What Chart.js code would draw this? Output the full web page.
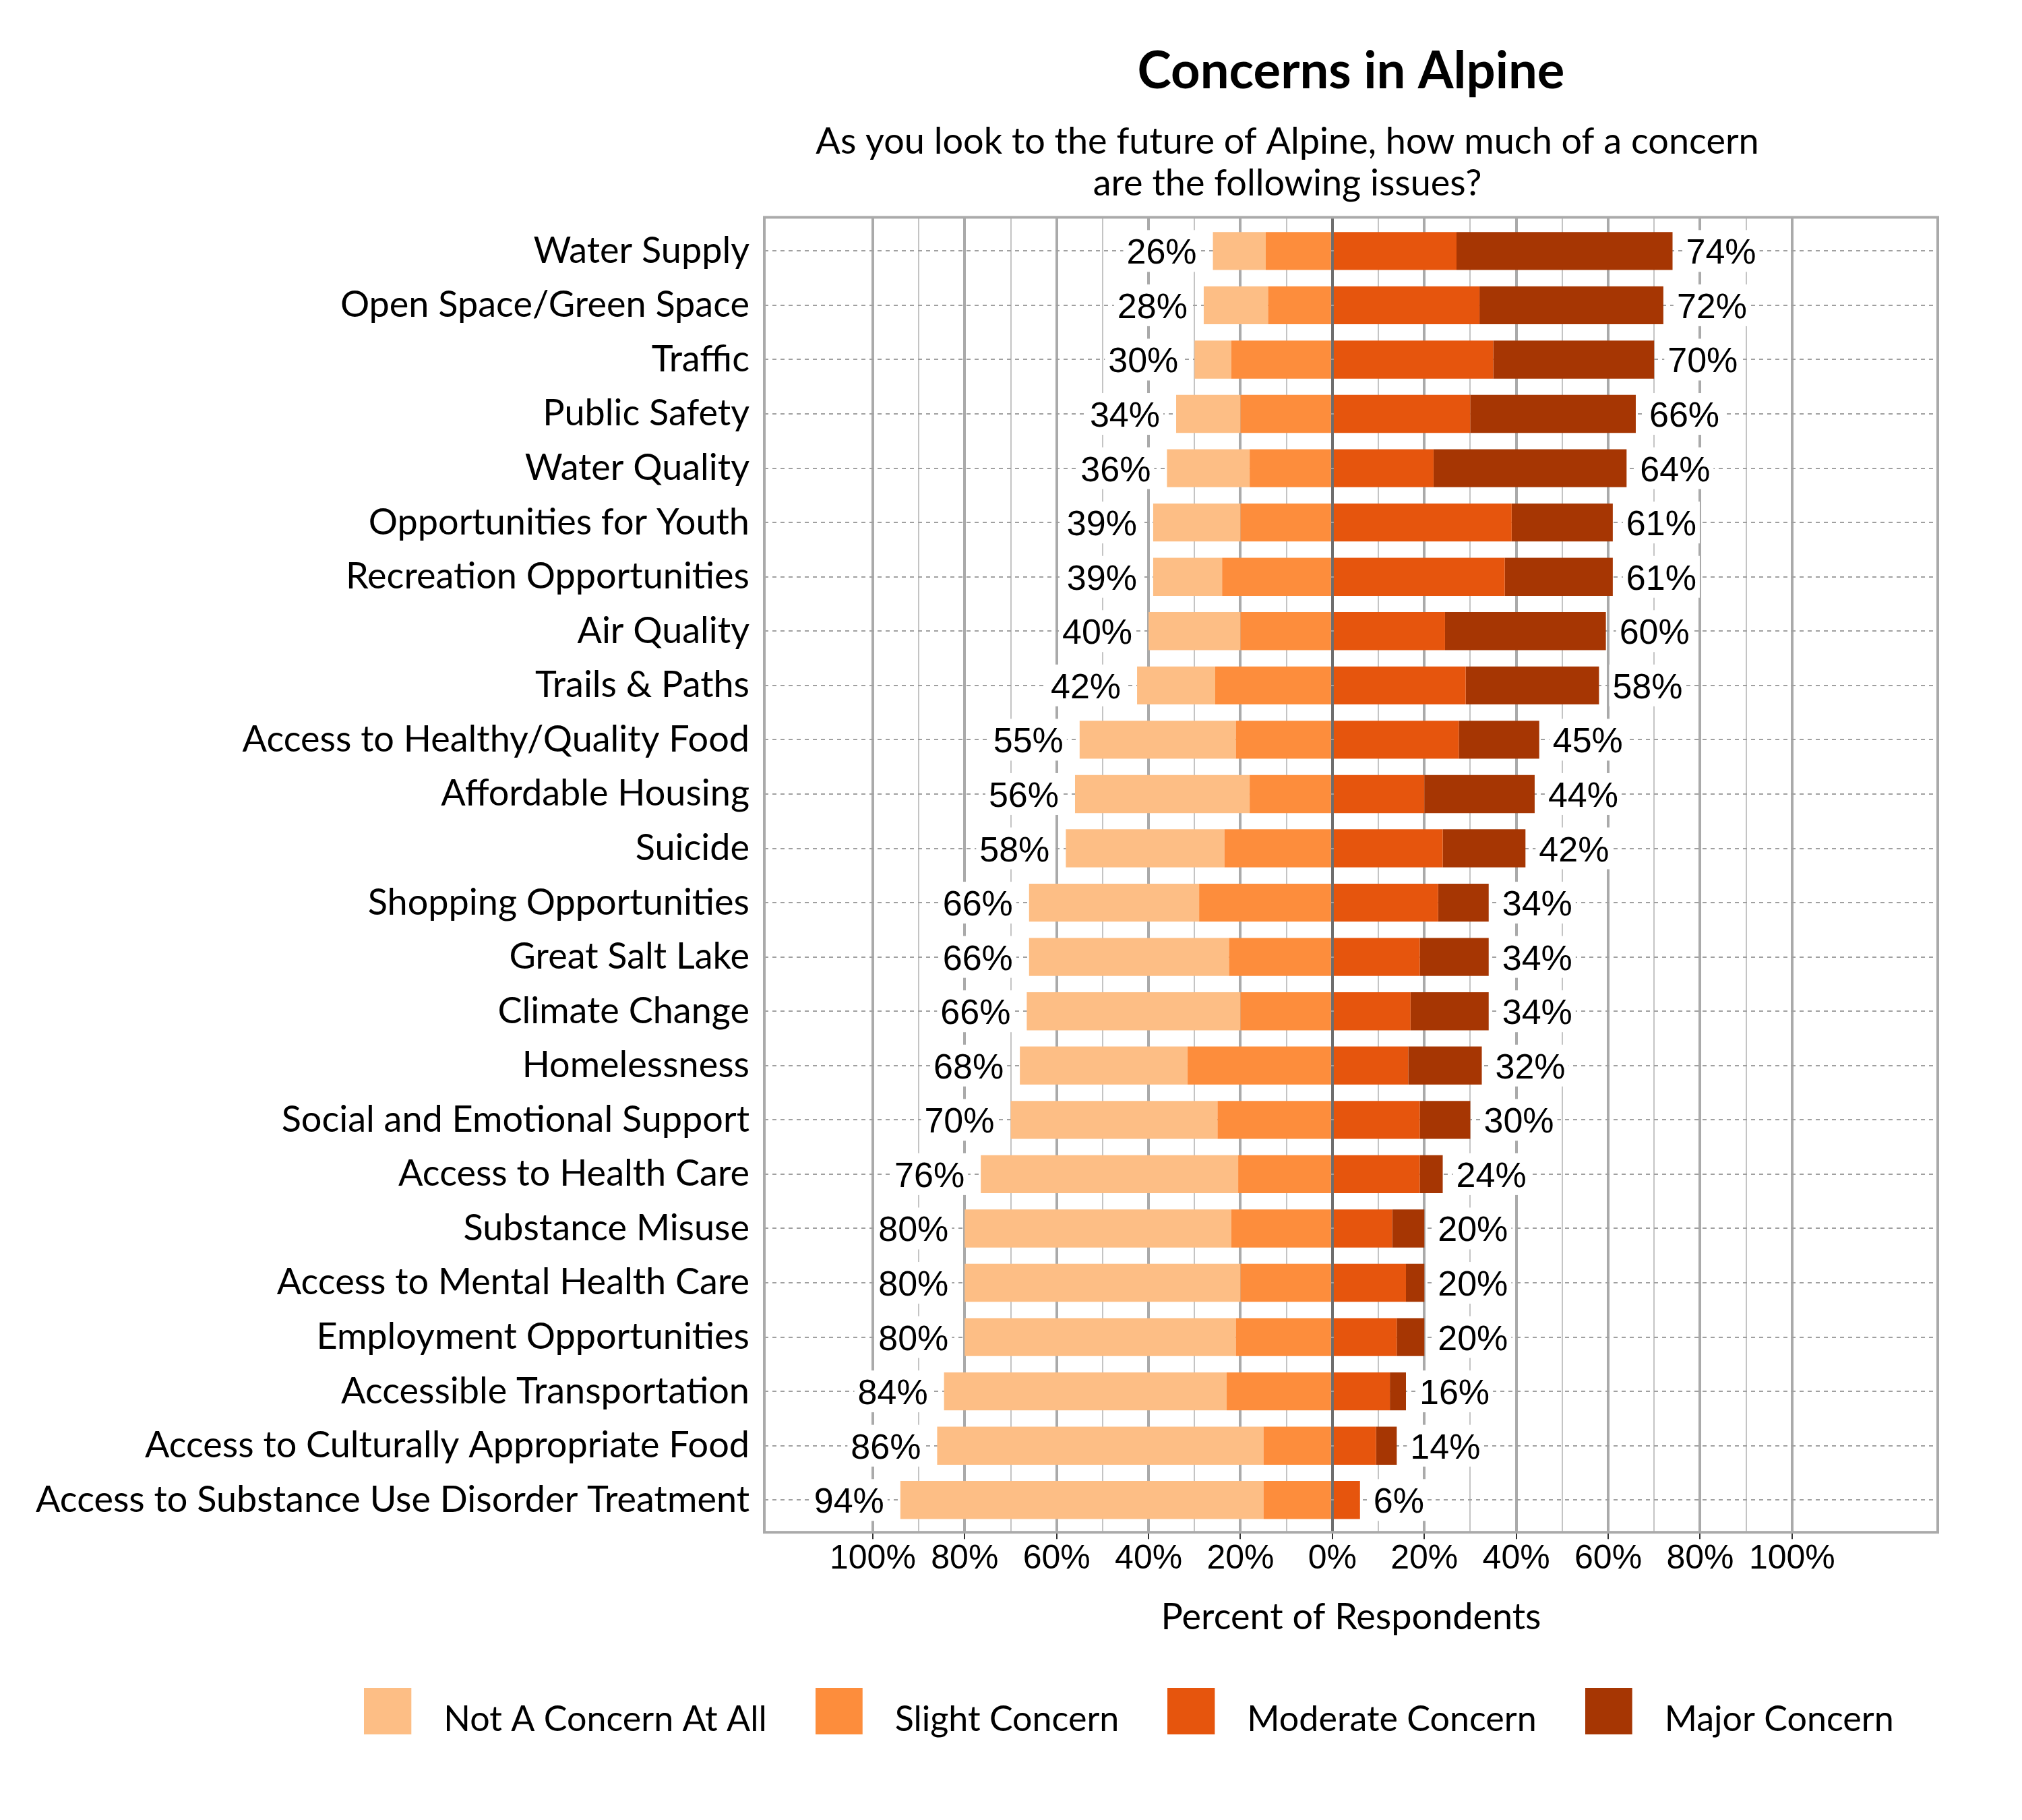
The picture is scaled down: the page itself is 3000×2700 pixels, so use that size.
<!DOCTYPE html>
<html>
<head>
<meta charset="utf-8">
<title>Concerns in Alpine</title>
<script src="https://cdn.jsdelivr.net/npm/chart.js@4.4.1/dist/chart.umd.min.js"></script>
<style>
  html, body { margin: 0; padding: 0; background: #ffffff; }
  canvas { display: block; }
</style>
</head>
<body>
<canvas id="concernsChart" width="3000" height="2700" style="width:3000px;height:2700px"></canvas>
<script>
// Kategori dari atas ke bawah
const categories = [
  'Water Supply', 'Open Space/Green Space', 'Traffic', 'Public Safety', 'Water Quality',
  'Opportunities for Youth', 'Recreation Opportunities', 'Air Quality', 'Trails & Paths',
  'Access to Healthy/Quality Food', 'Affordable Housing', 'Suicide', 'Shopping Opportunities',
  'Great Salt Lake', 'Climate Change', 'Homelessness', 'Social and Emotional Support',
  'Access to Health Care', 'Substance Misuse', 'Access to Mental Health Care',
  'Employment Opportunities', 'Accessible Transportation', 'Access to Culturally Appropriate Food',
  'Access to Substance Use Disorder Treatment'
];

// Persen responden per tingkat kekhawatiran
const notConcern = [11.5, 14, 8, 14, 18, 19, 15, 20, 17, 34, 38, 34.5, 37, 43.5, 46.5, 36.5, 45, 56, 58, 60, 59, 61.5, 71, 79];
const slightConcern = [14.5, 14, 22, 20, 18, 20, 24, 20, 25.5, 21, 18, 23.5, 29, 22.5, 20, 31.5, 25, 20.5, 22, 20, 21, 23, 15, 15];
const moderateConcern = [27, 32, 35, 30, 22, 39, 37.5, 24.5, 29, 27.5, 20, 24, 23, 19, 17, 16.5, 19, 19, 13, 16, 14, 12.5, 9.5, 6];
const majorConcern = [47, 40, 35, 36, 42, 22, 23.5, 35, 29, 17.5, 24, 18, 11, 15, 17, 16, 11, 5, 7, 4, 6, 3.5, 4.5, 0];

// Label total kiri (tidak/sedikit) dan kanan (sedang/besar)
const leftTotals = [26, 28, 30, 34, 36, 39, 39, 40, 42, 55, 56, 58, 66, 66, 66, 68, 70, 76, 80, 80, 80, 84, 86, 94];
const rightTotals = [74, 72, 70, 66, 64, 61, 61, 60, 58, 45, 44, 42, 34, 34, 34, 32, 30, 24, 20, 20, 20, 16, 14, 6];

// Garis grid sumbu x dan label tick
const tickValues = [-100, -90, -80, -70, -60, -50, -40, -30, -20, -10, 0, 10, 20, 30, 40, 50, 60, 70, 80, 90, 100];

const seriesNames = ['Slight Concern', 'Not A Concern At All', 'Moderate Concern', 'Major Concern'];
const seriesColors = ['#fd8d3c', '#fdbe85', '#e6550d', '#a63603'];
const legendRank = [1, 0, 2, 3]; // urutan legend: Not, Slight, Moderate, Major

// Kotak warna legend (kotak + jarak kosong di kanan)
function legendSwatch(color) {
  const c = document.createElement('canvas');
  c.width = 92;
  c.height = 94;
  const g = c.getContext('2d');
  g.fillStyle = color;
  g.fillRect(0, 0, 70, 69);
  return c;
}
const swatches = seriesColors.map(legendSwatch);

// Latar putih
const whiteBackground = {
  id: 'whiteBackground',
  beforeDraw(chart) {
    const ctx = chart.ctx;
    ctx.save();
    ctx.fillStyle = '#ffffff';
    ctx.fillRect(0, 0, chart.width, chart.height);
    ctx.restore();
  }
};

// Label kategori panjang boleh keluar ke kiri
const wideLabels = {
  id: 'wideLabels',
  afterLayout(chart) {
    chart.scales.y.left = 0;
  }
};

// Bingkai area plot
const panelBorder = {
  id: 'panelBorder',
  beforeDatasetsDraw(chart) {
    const {ctx, chartArea: a} = chart;
    ctx.save();
    ctx.strokeStyle = '#aaaaaa';
    ctx.lineWidth = 4;
    ctx.strokeRect(a.left, a.top, a.right - a.left, a.bottom - a.top);
    ctx.restore();
  }
};

function drawTag(ctx, text, x, y, align) {
  const w = ctx.measureText(text).width;
  const left = align === 'right' ? x - w : x;
  ctx.fillStyle = '#ffffff';
  ctx.fillRect(left - 5, y - 31, w + 10, 62);
  ctx.fillStyle = '#000000';
  ctx.textAlign = align;
  ctx.fillText(text, x, y + 19);
}

// Ujung batang dari elemen Chart.js (abaikan nilai kosong)
function barEdge(chart, dsIndexes, i, pick) {
  let edge = null;
  dsIndexes.forEach((d) => {
    if (chart.data.datasets[d].data[i] === null) return;
    const el = chart.getDatasetMeta(d).data[i];
    const v = pick(el.x, el.base);
    edge = edge === null ? v : pick(edge, v);
  });
  return edge;
}

// Label persen di kedua ujung batang
const valueLabels = {
  id: 'valueLabels',
  afterDatasetsDraw(chart) {
    const ctx = chart.ctx;
    ctx.save();
    ctx.font = '52px "Liberation Sans", Arial, sans-serif';
    ctx.textBaseline = 'alphabetic';
    categories.forEach((cat, i) => {
      const y = chart.getDatasetMeta(0).data[i].y;
      const leftEdge = barEdge(chart, [0, 1], i, Math.min);
      const rightEdge = barEdge(chart, [2, 3], i, Math.max);
      drawTag(ctx, leftTotals[i] + '%', leftEdge - 24, y, 'right');
      drawTag(ctx, rightTotals[i] + '%', rightEdge + 20, y, 'left');
    });
    ctx.restore();
  }
};

const toBar = (arr, sign) => arr.map((v) => (v === 0 ? null : sign * v));
const seriesData = [
  toBar(slightConcern, -1),
  toBar(notConcern, -1),
  toBar(moderateConcern, 1),
  toBar(majorConcern, 1)
];

const subtitlePad = '\u2003\u2003\u2003\u2003\u2002';

new Chart(document.getElementById('concernsChart').getContext('2d'), {
  type: 'bar',
  data: {
    labels: categories,
    datasets: seriesNames.map((name, i) => ({
      label: name,
      data: seriesData[i],
      backgroundColor: seriesColors[i],
      borderWidth: 0,
      barPercentage: 0.7,
      categoryPercentage: 1.0,
      xAxisID: 'x',
      yAxisID: 'y'
    }))
  },
  options: {
    indexAxis: 'y',
    responsive: false,
    devicePixelRatio: 1,
    animation: false,
    layout: { padding: { left: 350, right: 0, top: 0, bottom: 113 } },
    scales: {
      x: {
        type: 'linear',
        stacked: true,
        min: -123.6,
        max: 131.7,
        afterBuildTicks(scale) {
          scale.ticks = tickValues.map((v) => ({ value: v }));
        },
        grid: {
          color: (c) => {
            const v = c.tick ? c.tick.value : 10;
            if (v === 0) return '#6e6e6e';
            return v % 20 === 0 ? '#aaaaaa' : '#c4c4c4';
          },
          lineWidth: (c) => {
            const v = c.tick ? c.tick.value : 10;
            return v % 20 === 0 ? 4 : 2;
          },
          tickColor: (c) => {
            const v = c.tick ? c.tick.value : 10;
            return v % 20 === 0 ? '#333333' : 'rgba(0,0,0,0)';
          },
          tickWidth: 2,
          tickLength: 10
        },
        border: { display: false },
        ticks: {
          autoSkip: false,
          maxRotation: 0,
          padding: 0,
          color: '#000000',
          font: { family: '"Liberation Sans", Arial, sans-serif', size: 50 },
          callback: (v) => (v % 20 === 0 ? Math.abs(v) + '%' : '')
        },
        title: {
          display: true,
          text: 'Percent of Respondents',
          color: '#000000',
          font: { family: 'Lato, sans-serif', size: 54, lineHeight: 1.2 },
          padding: { top: 24, bottom: 21 }
        }
      },
      y: {
        type: 'category',
        position: 'left',
        stacked: true,
        afterBuildTicks(scale) {
          // sedikit ruang ekstra di atas dan bawah seperti aslinya
          scale._startValue = -0.62;
          scale._valueRange = 24.215;
        },
        afterFit(scale) {
          scale.width = 784;
        },
        grid: { offset: false, color: '#a0a0a0', lineWidth: 2, drawTicks: false },
        border: { display: false, dash: [6, 6] },
        ticks: {
          autoSkip: false,
          padding: 22,
          color: '#000000',
          font: { family: 'Lato, sans-serif', size: 54 }
        }
      },
      yPad: {
        type: 'linear',
        position: 'right',
        display: true,
        grid: { display: false },
        border: { display: false },
        ticks: { display: false },
        afterFit(scale) {
          scale.width = 125;
        }
      }
    },
    plugins: {
      title: {
        display: true,
        text: 'Concerns in Alpine',
        fullSize: false,
        color: '#000000',
        font: { family: 'Lato, sans-serif', size: 76, weight: 'bold', lineHeight: 1.2 },
        padding: { top: 61, bottom: 27 }
      },
      subtitle: {
        display: true,
        text: [
          'As you look to the future of Alpine, how much of a concern' + subtitlePad,
          'are the following issues?' + subtitlePad
        ],
        fullSize: false,
        color: '#000000',
        font: { family: 'Lato, sans-serif', size: 54, lineHeight: 1.15 },
        padding: { top: 0, bottom: 19 }
      },
      legend: {
        display: true,
        position: 'bottom',
        labels: {
          usePointStyle: true,
          pointStyleWidth: 92,
          padding: 72,
          color: '#000000',
          font: { family: 'Lato, sans-serif', size: 52 },
          generateLabels: (chart) => {
            const items = Chart.defaults.plugins.legend.labels.generateLabels(chart);
            items.forEach((item) => {
              item.pointStyle = swatches[item.datasetIndex];
            });
            return items;
          },
          sort: (a, b) => legendRank[a.datasetIndex] - legendRank[b.datasetIndex]
        }
      },
      tooltip: { enabled: false }
    }
  },
  plugins: [whiteBackground, wideLabels, panelBorder, valueLabels]
});
</script>
</body>
</html>
